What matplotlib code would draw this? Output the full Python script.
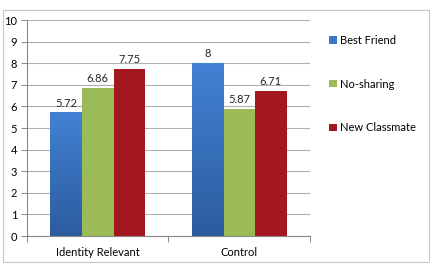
import numpy as np
import matplotlib
matplotlib.use('Agg')
import matplotlib.pyplot as plt
from matplotlib.colors import LinearSegmentedColormap
from matplotlib.patches import Rectangle

categories = ['Identity Relevant', 'Control']
series = ['Best Friend', 'No-sharing', 'New Classmate']
best_friend = [5.72, 8]
no_sharing = [6.86, 5.87]
new_classmate = [7.75, 6.71]
value_labels = [['5.72', '8'], ['6.86', '5.87'], ['7.75', '6.71']]
colors = ['#3a78c8', '#9bbb59', '#a3181f']

plt.rcParams['font.family'] = ['Lato', 'DejaVu Sans']

fig = plt.figure(figsize=(4.32, 2.64), dpi=100)
fig.patches.append(Rectangle((0.006, 0.006), 0.988, 0.955, transform=fig.transFigure,
                             fill=False, edgecolor='#c8c8c8', linewidth=0.8))
ax = fig.add_axes([0.0625, 0.106, 0.655, 0.818])

x = np.arange(len(categories))
width = 0.223
blue_cmap = LinearSegmentedColormap.from_list('blue', ['#2c5c9e', '#4282d4'])

for i, (vals, col) in enumerate(zip([best_friend, no_sharing, new_classmate], colors)):
    pos = x + (i - 1) * width
    bars = ax.bar(pos, vals, width, color=col, zorder=2, label=series[i], linewidth=0)
    if i == 0:
        # gradient fill for the blue bars
        for b in bars:
            grad = np.linspace(0, 1, 256).reshape(-1, 1)
            im = ax.imshow(grad, cmap=blue_cmap, origin='lower', aspect='auto',
                           extent=[b.get_x(), b.get_x() + b.get_width(), 0, b.get_height()],
                           zorder=2.1)
            im.set_clip_path(b)
    for p, v, lab in zip(pos, vals, value_labels[i]):
        ax.text(p, v + 0.18, lab, ha='center', va='bottom', fontsize=8, color='#262626')

ax.set_xlim(-0.5, 1.5)
ax.set_ylim(0, 10)
ax.set_yticks(range(0, 11))
ax.set_xticks(x)
ax.set_xticklabels(categories)
ax.set_xticks([-0.5, 0.5, 1.5], minor=True)
ax.tick_params(axis='x', which='major', length=0, pad=8, labelsize=8)
ax.tick_params(axis='x', which='minor', length=4, color='#888888', width=0.7)
ax.tick_params(axis='y', length=4, color='#888888', width=0.7, labelsize=8, pad=3)
ax.grid(axis='y', color='#b0b0b0', linewidth=0.8, zorder=0)
ax.set_axisbelow(True)
for s in ['top', 'right']:
    ax.spines[s].set_visible(False)
for s in ['left', 'bottom']:
    ax.spines[s].set_color('#888888')
    ax.spines[s].set_linewidth(0.8)

h, l = ax.get_legend_handles_labels()
fig.legend(h, l, loc='upper left', bbox_to_anchor=(0.752, 0.885), frameon=False,
           fontsize=8, handlelength=0.65, handleheight=0.65, handletextpad=0.3,
           labelspacing=2.95, borderaxespad=0)

fig.savefig('out.png', dpi=100)
